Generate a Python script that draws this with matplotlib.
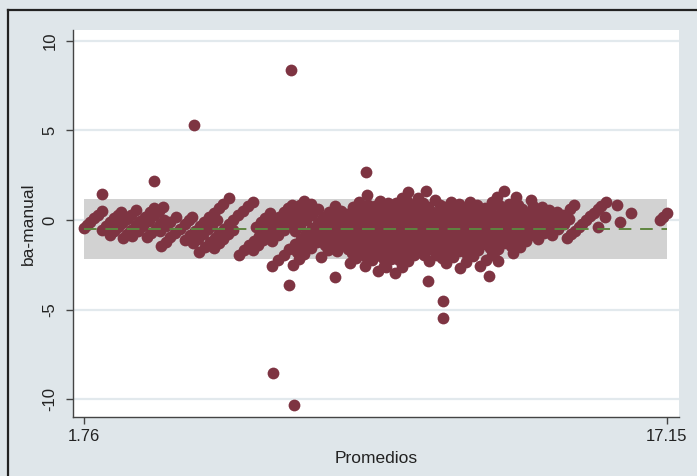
import numpy as np
import matplotlib
matplotlib.use('Agg')
import matplotlib.pyplot as plt
from matplotlib.lines import Line2D

plt.rcParams['font.family'] = ['Liberation Sans', 'DejaVu Sans']

# niveles de la medicion manual y diferencias (ba - manual) en cada nivel
manual = [1.98, 2.50, 2.85, 3.28, 3.48, 3.88, 4.08, 4.52, 4.98, 5.28, 5.70, 5.96,
          6.48, 6.82, 7.04, 7.30, 7.62, 8.00, 8.28, 8.52, 8.82, 9.05, 9.30, 9.52,
          9.75, 9.98, 10.22, 10.48, 10.72, 10.95, 11.20, 11.45, 11.72, 12.02,
          12.28, 12.52, 12.78, 13.02, 13.25, 13.50, 13.75, 14.02, 14.28, 14.53,
          15.02, 16.97]

dif_por_nivel = [
    [-0.45, -0.3, -0.12, 0.08, 0.28, 0.48],
    [-0.55, -0.35, -0.12, 0.1, 0.3, 0.46],
    [-0.85, -0.62, -0.4, -0.18, 0.05, 0.28, 0.55],
    [-1.0, -0.78, -0.55, -0.3, -0.08, 0.18, 0.42, 0.65],
    [-0.9, -0.62, -0.35, -0.05, 0.25, 0.5, 0.74],
    [-0.95, -0.72, -0.48, -0.25, -0.02],
    [-0.62, -0.35, -0.1, 0.19],
    [-1.48, -1.22, -0.98, -0.72, -0.48, -0.22, 0.0, 0.19],
    [-1.1, -0.85, -0.6, -0.35, -0.1, 0.15, 0.4, 0.65, 0.9, 1.2],
    [-1.3, -1.05, -0.78, -0.52, -0.28, -0.02],
    [-1.8, -1.52, -1.25, -1.0, -0.75, -0.5, -0.25, 0.0, 0.25, 0.52, 0.78, 1.02],
    [-1.57, -1.3, -1.05, -0.8, -0.55],
    [-0.37, -0.12, 0.12, 0.37],
    [-1.94, -1.68, -1.42, -1.15, -0.9, -0.62, -0.35, -0.1, 0.15, 0.42, 0.65, 0.83],
    [-1.67, -1.4, -1.12, -0.85, -0.55, -0.28, 0.0, 0.3, 0.6, 0.85, 1.07],
    [-1.15, -0.85, -0.55, -0.25, 0.05, 0.35, 0.65, 0.9],
    [-0.6, -0.3, 0.0, 0.3, 0.6],
    [-2.55, -2.25, -1.95, -1.65, -1.35, -1.05, -0.75, -0.45, -0.15, 0.15, 0.45, 0.75],
    [-1.8, -1.45, -1.1, -0.8, -0.45, -0.15, 0.2, 0.5],
    [-2.5, -2.2, -1.9, -1.55, -1.25, -0.95, -0.6, -0.3, 0.05, 0.35, 0.7, 1.0, 1.39],
    [-1.4, -1.05, -0.75, -0.4, -0.1, 0.25, 0.55, 0.85],
    [-2.05, -1.7, -1.4, -1.1, -0.75, -0.45, -0.15, 0.2, 0.5, 0.8, 1.05],
    [-1.75, -1.4, -1.05, -0.7, -0.35, 0.0, 0.35, 0.7, 0.95],
    [-1.6, -1.3, -0.95, -0.65, -0.3, 0.0, 0.3, 0.65, 0.95, 1.25, 1.57],
    [-1.85, -1.5, -1.15, -0.85, -0.5, -0.2, 0.15, 0.45, 0.8, 1.05],
    [-2.41, -2.1, -1.75, -1.45, -1.1, -0.8, -0.45, -0.15, 0.2, 0.5, 0.85, 1.2, 1.63],
    [-2.05, -1.7, -1.35, -1.05, -0.7, -0.4, -0.05, 0.3, 0.6, 0.95],
    [-2.59, -2.25, -1.95, -1.6, -1.3, -0.95, -0.65, -0.3, 0.0, 0.35, 0.7, 1.11],
    [-2.15, -1.8, -1.5, -1.15, -0.85, -0.5, -0.2, 0.15, 0.45, 0.85],
    [-2.87, -2.55, -2.2, -1.9, -1.55, -1.25, -0.9, -0.6, -0.25, 0.05, 0.4, 0.7, 1.0],
    [-2.25, -1.95, -1.6, -1.3, -0.95, -0.65, -0.3, 0.0, 0.35, 0.65, 0.9],
    [-2.96, -2.6, -2.3, -1.95, -1.65, -1.3, -1.0, -0.65, -0.35, 0.0, 0.3, 0.65, 1.0],
    [-1.95, -1.65, -1.3, -1.0, -0.65, -0.35, 0.0, 0.3, 0.6, 0.85],
    [-2.3, -1.95, -1.65, -1.3, -1.0, -0.65, -0.35, 0.0, 0.3, 0.65, 1.0, 1.3, 1.63],
    [-2.15, -1.85, -1.5, -1.2, -0.85, -0.55, -0.2, 0.1, 0.45, 0.85],
    [-2.41, -2.05, -1.75, -1.4, -1.1, -0.75, -0.45, -0.1, 0.2, 0.55, 0.9, 1.3],
    [-1.85, -1.5, -1.2, -0.85, -0.55, -0.2, 0.1, 0.45, 0.85],
    [-2.69, -2.35, -2.0, -1.7, -1.35, -1.05, -0.7, -0.4, -0.05, 0.25, 0.6, 1.1],
    [-1.55, -1.25, -0.9, -0.6, -0.25, 0.05, 0.4, 0.75],
    [-2.59, -2.25, -1.95, -1.6, -1.3, -0.95, -0.65, -0.3, 0.0, 0.35, 0.7],
    [-1.45, -1.1, -0.8, -0.45, -0.15, 0.2, 0.55],
    [-1.85, -1.5, -1.2, -0.85, -0.55, -0.2, 0.1, 0.45],
    [-1.05, -0.75, -0.4, -0.1, 0.25, 0.6, 0.85],
    [-0.83, -0.5, -0.2, 0.05],
    [-1.02, -0.8, -0.6, -0.4, -0.2, 0.0, 0.2, 0.4, 0.6, 0.8, 1.02],
    [0.0, 0.18, 0.37],
]

# observaciones sueltas (promedio, diferencia)
prom_sueltos = [2.23, 3.59, 4.66, 7.22, 9.20, 6.74, 7.31, 7.17, 8.39, 9.72, 10.28,
                10.83, 11.24, 11.24, 12.44, 12.69, 12.61, 15.34, 15.52, 15.83,
                15.92, 16.21]
dif_sueltos = [1.44, 2.17, 5.32, 8.37, 2.70, -8.52, -10.33, -3.65, -3.2, -2.6, -2.22,
               -3.39, -4.54, -5.5, -3.15, -2.31, -1.76, -0.37, 0.19, 0.83,
               -0.09, 0.37]

media_dif = -0.505
lim_sup = 1.17
lim_inf = -2.18
x_min, x_max = 1.76, 17.15

prom = []
dif = []
for m, ds in zip(manual, dif_por_nivel):
    for d in ds:
        ba = m + d
        prom.append((ba + m) / 2)
        dif.append(ba - m)
prom += prom_sueltos
dif += dif_sueltos

fondo = '#dfe6ea'
fig = plt.figure(figsize=(6.97, 4.76), dpi=100, facecolor=fondo)
ax = fig.add_axes([73 / 697, 1 - 417 / 476, (679 - 73) / 697, (417 - 30) / 476])
ax.set_facecolor('white')

ax.set_xlim(1.46, 17.47)
ax.set_ylim(-11.0, 10.6)

for yt in [-10, -5, 0, 5, 10]:
    ax.axhline(yt, color='#e2e9ed', lw=1.6, zorder=0)

ax.fill_between([x_min, x_max], lim_inf, lim_sup, color='#d2d2d2', lw=0, zorder=1)
ax.scatter(prom, dif, s=72, color='#7e3442', linewidths=0, zorder=2)
ax.plot([x_min, x_max], [media_dif, media_dif], color='#5f8540', lw=1.4,
        dashes=(6.5, 4.5), zorder=3)

ax.set_xticks([x_min, x_max])
ax.set_xticklabels(['1.76', '17.15'])
ax.set_yticks([-10, -5, 0, 5, 10])
ax.set_yticklabels(['-10', '-5', '0', '5', '10'], rotation=90, va='center')
ax.tick_params(length=5, width=1, color='#444', labelsize=12, labelcolor='#222')
ax.tick_params(axis='y', pad=6)

for s in ['top', 'right']:
    ax.spines[s].set_visible(False)
for s in ['left', 'bottom']:
    ax.spines[s].set_color('#444')
    ax.spines[s].set_linewidth(1)

ax.set_xlabel('Promedios', fontsize=12.5, color='#222', labelpad=5)
ax.set_ylabel('ba-manual', fontsize=12.5, color='#222', labelpad=5)

# marco del grafico
fig.add_artist(Line2D([8 / 697, 1], [1 - 10 / 476, 1 - 10 / 476], color='#222', lw=1.6))
fig.add_artist(Line2D([8 / 697, 8 / 697], [0, 1 - 10 / 476], color='#222', lw=1.6))

fig.savefig('out.png', dpi=100, facecolor=fondo)
